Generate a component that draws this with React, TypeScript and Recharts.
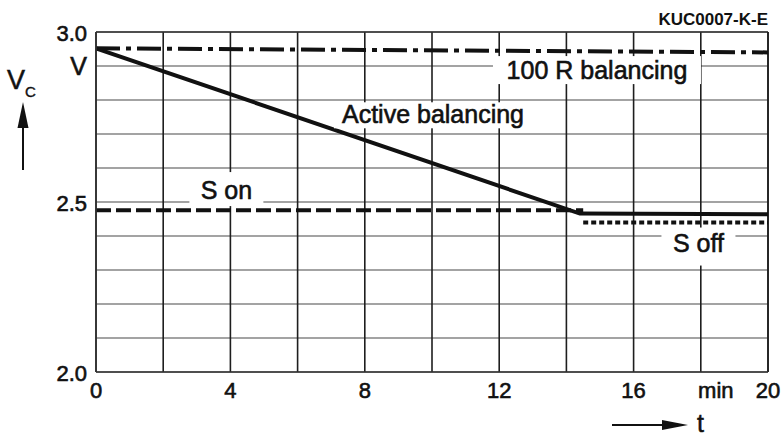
import React from "react";
import { LineChart, Line, XAxis, YAxis, CartesianGrid, ReferenceDot, ReferenceLine } from "recharts";

const timeTicks = [0, 2, 4, 6, 8, 10, 12, 14, 16, 18, 20];
const timeTickLabels = ["0", "", "4", "", "8", "", "12", "", "16", "min", "20"];
const voltTicks = [2.0, 2.1, 2.2, 2.3, 2.4, 2.5, 2.6, 2.7, 2.8, 2.9, 3.0];
const voltTickLabels = ["2.0", "", "", "", "", "2.5", "", "", "", "V", "3.0"];

const balancing100R = [
  { t: 0, v: 2.952 },
  { t: 20, v: 2.94 },
];
const activeBalancing = [
  { t: 0, v: 2.952 },
  { t: 14.4, v: 2.466 },
  { t: 20, v: 2.464 },
];
const switchOn = [
  { t: 0, v: 2.476 },
  { t: 14.5, v: 2.476 },
];
const switchOff = [
  { t: 14.5, v: 2.44 },
  { t: 20, v: 2.44 },
];

const labelTexts = ["100 R balancing", "Active balancing", "S on", "S off"];
const labelTimes = [14.91, 10.03, 3.88, 17.93];
const labelVolts = [2.888, 2.755, 2.538, 2.369];

const FONT = "'Liberation Sans', Arial, Helvetica, sans-serif";
const labelBoxes = [
  { w: 208, h: 28, dy: 8.5 },
  { w: 198, h: 26, dy: 7.5 },
  { w: 74, h: 34, dy: 10 },
  { w: 74, h: 38, dy: 5.5 },
];

const YTick = (props: any) => {
  const { x, y, index } = props;
  const label = voltTickLabels[index];
  if (!label) return null;
  const isUnit = label === "V";
  return (
    <text
      x={x - 9}
      y={y + 8.5}
      textAnchor="end"
      fontFamily={FONT}
      fontSize={isUnit ? 25 : 22}
      fill="#111"
      stroke="#111"
      strokeWidth={0.6}
    >
      {label}
    </text>
  );
};

const XTick = (props: any) => {
  const { x, y, index } = props;
  const label = timeTickLabels[index];
  if (!label) return null;
  const dx = label === "min" ? 15 : 0;
  return (
    <text
      x={x + dx}
      y={y + 26}
      textAnchor="middle"
      fontFamily={FONT}
      fontSize={22}
      fill="#111"
      stroke="#111"
      strokeWidth={0.6}
    >
      {label}
    </text>
  );
};

const makeBoxLabel = (i: number) => (props: any) => {
  const vb = props.viewBox || {};
  const cx = (vb.x ?? 0) + (vb.width ?? 0) / 2;
  const cy = (vb.y ?? 0) + (vb.height ?? 0) / 2;
  const box = labelBoxes[i];
  return (
    <g>
      <rect x={cx - box.w / 2} y={cy - box.h / 2} width={box.w} height={box.h} fill="#fff" />
      <text
        x={cx}
        y={cy + box.dy}
        textAnchor="middle"
        fontFamily={FONT}
        fontSize={25}
        fill="#111"
        stroke="#111"
        strokeWidth={0.6}
      >
        {labelTexts[i]}
      </text>
    </g>
  );
};

export default function App() {
  return (
    <div style={{ position: "absolute", left: 0, top: 0, width: 783, height: 439, background: "#fff" }}>
      <LineChart
        width={783}
        height={439}
        margin={{ top: 32, right: 15, bottom: 27, left: 36 }}
      >
        <CartesianGrid horizontal={true} vertical={false} stroke="#858585" strokeWidth={1.6} />
        <CartesianGrid horizontal={false} vertical={true} stroke="#1e1e1e" strokeWidth={1.6} />
        <XAxis
          type="number"
          dataKey="t"
          domain={[0, 20]}
          ticks={timeTicks}
          interval={0}
          tickLine={false}
          tickSize={0}
          tickMargin={0}
          height={40}
          axisLine={{ stroke: "#333", strokeWidth: 1.6 }}
          tick={<XTick />}
          allowDataOverflow
        />
        <YAxis
          type="number"
          dataKey="v"
          domain={[2, 3]}
          ticks={voltTicks}
          interval={0}
          tickLine={false}
          tickSize={0}
          tickMargin={0}
          width={60}
          axisLine={{ stroke: "#333", strokeWidth: 1.6 }}
          tick={<YTick />}
          allowDataOverflow
        />
        <ReferenceLine y={3} stroke="#333" strokeWidth={1.6} />
        <ReferenceLine x={20} stroke="#1e1e1e" strokeWidth={1.6} />
        {labelTexts.map((txt, i) => (
          <ReferenceDot
            key={txt}
            x={labelTimes[i]}
            y={labelVolts[i]}
            r={1}
            fill="none"
            stroke="none"
            label={makeBoxLabel(i)}
          />
        ))}
        <Line
          data={switchOn}
          dataKey="v"
          stroke="#111"
          strokeWidth={4}
          strokeDasharray="15 5"
          dot={false}
          activeDot={false}
          isAnimationActive={false}
        />
        <Line
          data={switchOff}
          dataKey="v"
          stroke="#111"
          strokeWidth={4}
          strokeDasharray="5 3"
          dot={false}
          activeDot={false}
          isAnimationActive={false}
        />
        <Line
          data={activeBalancing}
          dataKey="v"
          stroke="#111"
          strokeWidth={4}
          dot={false}
          activeDot={false}
          isAnimationActive={false}
        />
        <Line
          data={balancing100R}
          dataKey="v"
          stroke="#111"
          strokeWidth={4}
          strokeDasharray="24 6 5 6"
          dot={false}
          activeDot={false}
          isAnimationActive={false}
        />
      </LineChart>
      <svg
        width={783}
        height={439}
        style={{ position: "absolute", left: 0, top: 0, pointerEvents: "none" }}
      >
        <text x={768} y={25} textAnchor="end" fontFamily={FONT} fontSize={17} fontWeight="bold" fill="#111">
          KUC0007-K-E
        </text>
        <text x={7} y={89} fontFamily={FONT} fontSize={27} fill="#111" stroke="#111" strokeWidth={0.5}>
          V
        </text>
        <text x={25} y={97} fontFamily={FONT} fontSize={15} fill="#111" stroke="#111" strokeWidth={0.4}>
          C
        </text>
        <line x1={23} y1={170} x2={23} y2={120} stroke="#111" strokeWidth={2} />
        <polygon points="23,102 17.5,128 28.5,128" fill="#111" />
        <line x1={612} y1={425} x2={668} y2={425} stroke="#111" strokeWidth={2} />
        <polygon points="688,425 662,420 662,430" fill="#111" />
        <text x={697} y={432} fontFamily={FONT} fontSize={25} fill="#111" stroke="#111" strokeWidth={0.5}>
          t
        </text>
      </svg>
    </div>
  );
}
